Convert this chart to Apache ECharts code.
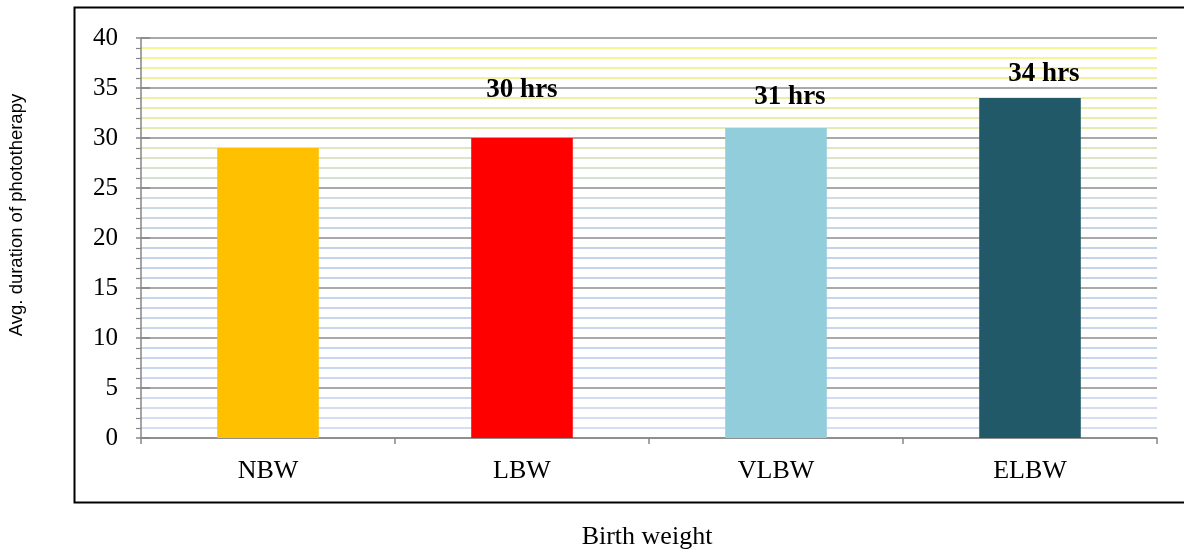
<!DOCTYPE html>
<html>
<head>
<meta charset="utf-8">
<title>Avg. duration of phototherapy by birth weight</title>
<script src="https://cdn.jsdelivr.net/npm/echarts@6/dist/echarts.min.js"></script>
<style>
  html, body { margin: 0; padding: 0; background: #ffffff; }
  #chart { width: 1184px; height: 553px; }
</style>
</head>
<body>
<div id="chart"></div>
<script>
// Birth-weight groups and average phototherapy duration (hours)
const categories = ['NBW', 'LBW', 'VLBW', 'ELBW'];
const durations = [29, 30, 31, 34];
const showValueLabel = [false, true, true, true];
const yTicks = { min: 0, max: 40, interval: 5 };

// Styling
const barColors = ['#FFC000', '#FF0000', '#92CDDC', '#215968'];
const labelOffsets = [[0, 0], [0, -29], [14, -12], [14, -5]];
const serif = '"Liberation Serif", "Times New Roman", Times, serif';
const sans = '"Liberation Sans", Arial, Helvetica, sans-serif';
const axisGray = '#868686';

const grid = { left: 141, right: 27, top: 38, bottom: 115 };

// minor gridlines fade from yellow at the top to pale blue at the bottom
const minorGradient = {
  type: 'linear', global: true,
  x: 0, y: grid.top, x2: 0, y2: 553 - grid.bottom,
  colorStops: [
    { offset: 0.0, color: '#f9f691' },
    { offset: 0.2, color: '#e9eda9' },
    { offset: 0.3, color: '#dce5c6' },
    { offset: 0.4, color: '#cfdce0' },
    { offset: 0.5, color: '#c5d3ea' },
    { offset: 0.8, color: '#c8d6ef' },
    { offset: 1.0, color: '#d8e1f3' }
  ]
};

const barData = durations.map((v, i) => ({
  value: v,
  itemStyle: { color: barColors[i] },
  label: { show: showValueLabel[i], offset: labelOffsets[i] }
}));

const chart = echarts.init(document.getElementById('chart'), null, { renderer: 'canvas' });

chart.setOption({
  animation: false,
  backgroundColor: '#ffffff',
  grid: grid,
  xAxis: {
    type: 'category',
    data: categories,
    boundaryGap: true,
    axisLine: { show: true, lineStyle: { color: axisGray, width: 1.5 } },
    axisTick: { show: true, length: 6, alignWithLabel: false, lineStyle: { color: axisGray, width: 1.5 } },
    axisLabel: { color: '#000', fontFamily: serif, fontSize: 26, margin: 20 },
    splitLine: { show: false }
  },
  yAxis: [
    {
      type: 'value',
      min: yTicks.min, max: yTicks.max, interval: yTicks.interval,
      axisLine: { show: true, lineStyle: { color: axisGray, width: 1.5 } },
      axisTick: { show: true, length: 5, lineStyle: { color: axisGray, width: 1.5 } },
      minorTick: { show: true, splitNumber: 5, length: 5, lineStyle: { color: axisGray, width: 1.2 } },
      axisLabel: { color: '#000', fontFamily: serif, fontSize: 25, margin: 23 },
      splitLine: { show: true, lineStyle: { color: '#8c8c8c', width: 1.5 } },
      minorSplitLine: { show: true, lineStyle: { color: minorGradient, width: 2 } }
    },
    {
      // inner half of the crossing major ticks
      type: 'value',
      position: 'left',
      min: yTicks.min, max: yTicks.max, interval: yTicks.interval,
      axisLine: { show: false },
      axisTick: { show: true, inside: true, length: 9, lineStyle: { color: axisGray, width: 1.5 } },
      axisLabel: { show: false },
      splitLine: { show: false }
    }
  ],
  series: [{
    type: 'bar',
    data: barData,
    barWidth: '40%',
    z: 3,
    label: {
      position: 'top',
      distance: 5,
      color: '#000',
      fontFamily: serif,
      fontWeight: 'bold',
      fontSize: 27,
      formatter: p => p.value + ' hrs'
    }
  }],
  graphic: [
    {
      type: 'rect',
      silent: true,
      shape: { x: 74.5, y: 7.5, width: 1130, height: 495 },
      style: { fill: 'none', stroke: '#000', lineWidth: 2 },
      z: -10
    },
    {
      type: 'text',
      silent: true,
      x: 17, y: 215,
      rotation: Math.PI / 2,
      style: {
        text: 'Avg. duration of phototherapy',
        fill: '#000',
        font: '18.5px ' + sans,
        textAlign: 'center',
        textVerticalAlign: 'middle'
      }
    },
    {
      type: 'text',
      silent: true,
      x: 647, y: 537,
      style: {
        text: 'Birth weight',
        fill: '#000',
        font: '26px ' + serif,
        textAlign: 'center',
        textVerticalAlign: 'middle'
      }
    }
  ]
});
</script>
</body>
</html>
